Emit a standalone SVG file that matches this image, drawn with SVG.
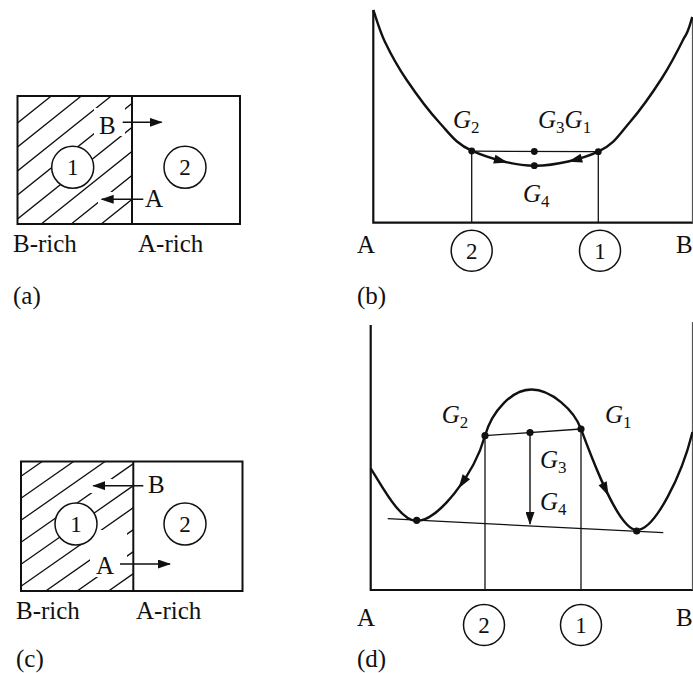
<svg xmlns="http://www.w3.org/2000/svg" width="693" height="673" viewBox="0 0 693 673">
<style>
.t{font-family:"Liberation Serif","Times New Roman",serif;font-size:25px;fill:#111}
.n{font-family:"Liberation Serif","Times New Roman",serif;font-size:23px;fill:#111;text-anchor:middle}
.g{font-family:"Liberation Serif","Times New Roman",serif;font-size:25px;font-style:italic;fill:#111}
.s{font-size:17px;font-style:normal}
.box{fill:none;stroke:#111;stroke-width:2}
.thin{fill:none;stroke:#111;stroke-width:1.3}
.hatch{stroke:#111;stroke-width:1.3}
.curve{fill:none;stroke:#111;stroke-width:2.4}
.axis{fill:none;stroke:#111;stroke-width:2.2}
.raxis{fill:none;stroke:#555;stroke-width:1.2}
.circ{fill:#fff;stroke:#111;stroke-width:1.5}
.dot{fill:#111}
.arr{fill:none;stroke:#111;stroke-width:1.4;marker-end:url(#ah)}
</style>
<defs>
<marker id="ah" markerWidth="13" markerHeight="9" refX="12" refY="4.5" orient="auto" markerUnits="userSpaceOnUse"><path d="M0,0 L13,4.5 L0,9 z" fill="#111"/></marker>
<path id="cah" d="M-7,-4.5 L7,0 L-7,4.5 z" fill="#111"/>
<clipPath id="clipA"><rect x="17.5" y="96" width="114.5" height="128"/></clipPath>
<clipPath id="clipC"><rect x="21" y="461.5" width="112" height="129.5"/></clipPath>
<mask id="maskA" maskUnits="userSpaceOnUse" x="0" y="0" width="693" height="673">
<rect x="0" y="0" width="693" height="673" fill="#fff"/>
<rect x="94" y="108" width="31" height="28" fill="#000"/>
<rect x="98" y="192" width="24" height="14" fill="#000"/>
</mask>
<mask id="maskC" maskUnits="userSpaceOnUse" x="0" y="0" width="693" height="673">
<rect x="0" y="0" width="693" height="673" fill="#fff"/>
<rect x="90" y="479" width="22" height="14" fill="#000"/>
<rect x="90" y="530" width="37" height="47" fill="#000"/>
</mask>
</defs>

<!-- Panel (a) -->
<g id="panel-a">
<g id="hatch-a" clip-path="url(#clipA)" mask="url(#maskA)">
<path class="hatch" d="M0,137 L150,17 M0,161 L150,41 M0,185 L150,65 M0,209 L150,89 M0,233 L150,113 M0,257 L150,137 M0,281 L150,161 M0,305 L150,185 M0,329 L150,209"/>
</g>
<rect class="box" x="17.5" y="96" width="222.5" height="128"/>
<line class="box" x1="132" y1="96" x2="132" y2="224"/>
<g id="a-phase1"><circle class="circ" cx="72.7" cy="167.3" r="21"/><text class="n" x="72.7" y="175.3">1</text></g>
<g id="a-phase2"><circle class="circ" cx="185" cy="167.3" r="21"/><text class="n" x="185" y="175.3">2</text></g>
<text class="t" x="99" y="134">B</text>
<text class="t" x="145" y="207">A</text>
<text class="t" x="13" y="252">B-rich</text>
<text class="t" x="138" y="252">A-rich</text>
<text class="t" x="13" y="304">(a)</text>
</g>

<!-- Panel (c) -->
<g id="panel-c">
<g id="hatch-c" clip-path="url(#clipC)" mask="url(#maskC)">
<path class="hatch" d="M0,491 L150,386 M0,513 L150,408 M0,535 L150,430 M0,557 L150,452 M0,579 L150,474 M0,601 L150,496 M0,623 L150,518 M0,645 L150,540 M0,667 L150,562"/>
</g>
<rect class="box" x="21" y="461.5" width="221.5" height="129.5"/>
<line class="box" x1="133.3" y1="461.5" x2="133.3" y2="591"/>
<g id="c-phase1"><circle class="circ" cx="76" cy="524" r="21"/><text class="n" x="76" y="532">1</text></g>
<g id="c-phase2"><circle class="circ" cx="185" cy="524" r="21"/><text class="n" x="185" y="532">2</text></g>
<text class="t" x="148" y="493">B</text>
<text class="t" x="96" y="574">A</text>
<text class="t" x="16" y="619">B-rich</text>
<text class="t" x="136" y="619">A-rich</text>
<text class="t" x="16" y="667">(c)</text>
</g>

<!-- Panel (b) -->
<g id="panel-b">
<path class="axis" d="M373.3,10 L373.3,222.7 L693,222.7"/>
<line class="raxis" x1="692.5" y1="17" x2="692.5" y2="222.7"/>
<path class="curve" d="M373.3,10 C375.3,15.3 379.4,30.3 385,42 C390.6,53.7 397.5,66.5 406.7,80 C415.9,93.6 429.2,111.5 440,123.3 C450.8,135.1 456,143.6 471.7,150.7 C487.4,157.8 513.2,165.5 534.3,165.7 C555.4,165.9 582.35,159 598.3,151.7 C614.25,144.4 619.4,134.3 630,122 C640.6,109.7 653,92 662,78 C671,64 678.95,48.2 684,38 C689.05,31.5 690.9,20.5 692.3,17"/>
<line class="thin" x1="471.7" y1="151.2" x2="598.3" y2="151.7"/>
<line class="thin" x1="471.7" y1="150.7" x2="471.7" y2="222.7"/>
<line class="thin" x1="598.3" y1="151.7" x2="598.3" y2="222.7"/>
<use href="#cah" transform="translate(501.1,160.8) rotate(14.5)"/>
<use href="#cah" transform="translate(575,159.9) rotate(165)"/>
<circle class="dot" cx="471.7" cy="150.9" r="3.4"/>
<circle class="dot" cx="534.3" cy="151.5" r="3.4"/>
<circle class="dot" cx="534.3" cy="165.7" r="3.4"/>
<circle class="dot" cx="598.3" cy="151.7" r="3.4"/>
<text class="g" x="453" y="128">G<tspan class="s" dy="5">2</tspan></text>
<text class="g" x="538" y="128">G<tspan class="s" dy="5">3</tspan><tspan dy="-5">G</tspan><tspan class="s" dy="5">1</tspan></text>
<text class="g" x="523" y="202">G<tspan class="s" dy="5">4</tspan></text>
<text class="t" x="357" y="253">A</text>
<text class="t" x="676" y="253">B</text>
<g id="b-comp2"><circle class="circ" cx="471.7" cy="250.7" r="20.5"/><text class="n" x="471.7" y="258.7">2</text></g>
<g id="b-comp1"><circle class="circ" cx="600" cy="250.7" r="20.5"/><text class="n" x="600" y="258.7">1</text></g>
<text class="t" x="357" y="304">(b)</text>
</g>

<!-- Panel (d) -->
<g id="panel-d">
<path class="axis" d="M370.7,325 L370.7,590 L693,590"/>
<line class="raxis" x1="692.5" y1="322" x2="692.5" y2="590"/>
<path class="curve" d="M370.7,468.3 C382,486 400,521 416.7,521 C438,521 474,475 485,435.7 C492,411 512,389.5 531.5,389.5 C551,389.5 574,410 581,429 C591,456 618,530 636.7,530 C655,530 682,475 692.5,432"/>
<line class="thin" x1="387.7" y1="518.7" x2="663.3" y2="532.7"/>
<line class="thin" x1="485" y1="435.7" x2="581" y2="429"/>
<line class="thin" x1="485" y1="435.7" x2="485" y2="590"/>
<line class="thin" x1="581" y1="429" x2="581" y2="590"/>
<line class="arr" x1="530" y1="432.5" x2="530" y2="524"/>
<use href="#cah" transform="translate(462.4,482.6) rotate(124.3)"/>
<use href="#cah" transform="translate(605.6,489.6) rotate(64.7)"/>
<circle class="dot" cx="416.7" cy="520.3" r="3.6"/>
<circle class="dot" cx="485" cy="435.7" r="3.6"/>
<circle class="dot" cx="530" cy="432.5" r="3.6"/>
<circle class="dot" cx="581" cy="429" r="3.6"/>
<circle class="dot" cx="636.7" cy="531" r="3.6"/>
<text class="g" x="441.7" y="423">G<tspan class="s" dy="5">2</tspan></text>
<text class="g" x="605" y="423">G<tspan class="s" dy="5">1</tspan></text>
<text class="g" x="540" y="468">G<tspan class="s" dy="5">3</tspan></text>
<text class="g" x="540" y="510">G<tspan class="s" dy="5">4</tspan></text>
<text class="t" x="357" y="626">A</text>
<text class="t" x="676" y="626">B</text>
<g id="d-comp2"><circle class="circ" cx="484" cy="625" r="20.5"/><text class="n" x="484" y="633">2</text></g>
<g id="d-comp1"><circle class="circ" cx="581" cy="625" r="20.5"/><text class="n" x="581" y="633">1</text></g>
<text class="t" x="357" y="667">(d)</text>
</g>

<!-- connectors -->
<g id="connectors">
<line class="arr" x1="122.7" y1="122.3" x2="161.7" y2="122.3"/>
<line class="arr" x1="143.3" y1="199.3" x2="101.7" y2="199.3"/>
<line class="arr" x1="143.3" y1="485.7" x2="93.3" y2="485.7"/>
<line class="arr" x1="120" y1="564" x2="170" y2="564"/>
</g>
</svg>
